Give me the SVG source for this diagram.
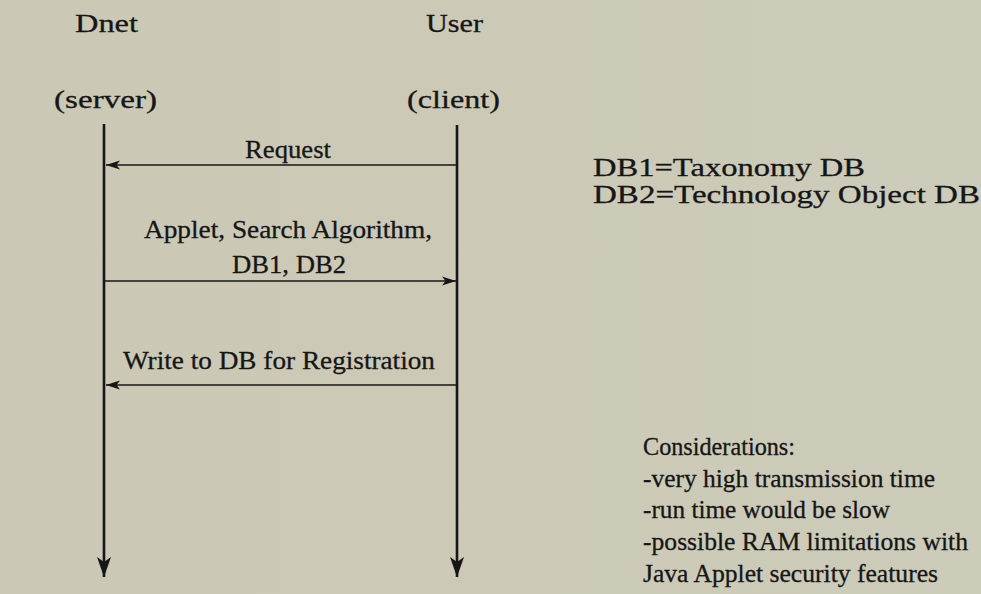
<svg xmlns="http://www.w3.org/2000/svg" width="981" height="594" viewBox="0 0 981 594">
  <style>
    text { font-family: "Liberation Serif", "Times New Roman", serif; fill: #161616; stroke: #161616; stroke-width: 0.3; }
    .hdr { font-size: 26px; }
    .msg { font-size: 25px; }
    .leg { font-size: 25px; }
    .note { font-size: 25px; }
    .life { stroke: #161616; stroke-width: 2.6; fill: none; }
    .arr { stroke: #161616; stroke-width: 1.7; fill: none; }
  </style>
  <defs>
    <marker id="mh" markerUnits="userSpaceOnUse" viewBox="0 -6 16 12" markerWidth="16" markerHeight="12" refX="14" refY="0" orient="auto">
      <path d="M0,-4.5 L14,0 L0,4.5 L3.5,0 Z" fill="#161616"/>
    </marker>
    <marker id="lh" markerUnits="userSpaceOnUse" viewBox="0 -8 22 16" markerWidth="22" markerHeight="16" refX="20" refY="0" orient="auto">
      <path d="M0,-7 L20,0 L0,7 L5,0 Z" fill="#161616"/>
    </marker>
    <linearGradient id="bg" x1="0" y1="0" x2="1" y2="0">
      <stop offset="0" stop-color="#cbc8b5"/>
      <stop offset="1" stop-color="#cdcbb9"/>
    </linearGradient>
  </defs>
  <rect x="0" y="0" width="981" height="594" fill="url(#bg)"/>

  <g id="dnet">
    <text class="hdr" x="75" y="32" textLength="63" lengthAdjust="spacingAndGlyphs">Dnet</text>
    <text class="hdr" x="54" y="108" textLength="103" lengthAdjust="spacingAndGlyphs">(server)</text>
  </g>
  <g id="user">
    <text class="hdr" x="426" y="32" textLength="57" lengthAdjust="spacingAndGlyphs">User</text>
    <text class="hdr" x="407" y="108" textLength="93" lengthAdjust="spacingAndGlyphs">(client)</text>
  </g>

  <g id="connectors">
    <line class="life" x1="104" y1="124" x2="104" y2="577" marker-end="url(#lh)"/>
    <line class="life" x1="457" y1="125" x2="457" y2="577" marker-end="url(#lh)"/>
    <line class="arr" x1="457" y1="165" x2="106" y2="165" marker-end="url(#mh)"/>
    <line class="arr" x1="104" y1="281" x2="456" y2="281" marker-end="url(#mh)"/>
    <line class="arr" x1="457" y1="385" x2="106" y2="385" marker-end="url(#mh)"/>
  </g>

  <g id="labels">
    <text class="msg" x="245" y="158" textLength="86" lengthAdjust="spacingAndGlyphs">Request</text>
    <text class="msg" x="144" y="238" textLength="288" lengthAdjust="spacingAndGlyphs">Applet, Search Algorithm,</text>
    <text class="msg" x="232" y="273" textLength="114" lengthAdjust="spacingAndGlyphs">DB1, DB2</text>
    <text class="msg" x="123" y="369" textLength="312" lengthAdjust="spacingAndGlyphs">Write to DB for Registration</text>
  </g>

  <g id="legend">
    <text class="leg" x="593" y="176" textLength="272" lengthAdjust="spacingAndGlyphs">DB1=Taxonomy DB</text>
    <text class="leg" x="593" y="203" textLength="387" lengthAdjust="spacingAndGlyphs">DB2=Technology Object DB</text>
  </g>

  <g id="considerations">
    <text class="note" x="643" y="455" textLength="152" lengthAdjust="spacingAndGlyphs">Considerations:</text>
    <text class="note" x="643" y="487" textLength="292" lengthAdjust="spacingAndGlyphs">-very high transmission time</text>
    <text class="note" x="643" y="518" textLength="247" lengthAdjust="spacingAndGlyphs">-run time would be slow</text>
    <text class="note" x="643" y="550" textLength="325" lengthAdjust="spacingAndGlyphs">-possible RAM limitations with</text>
    <text class="note" x="643" y="582" textLength="295" lengthAdjust="spacingAndGlyphs">Java Applet security features</text>
  </g>
</svg>
